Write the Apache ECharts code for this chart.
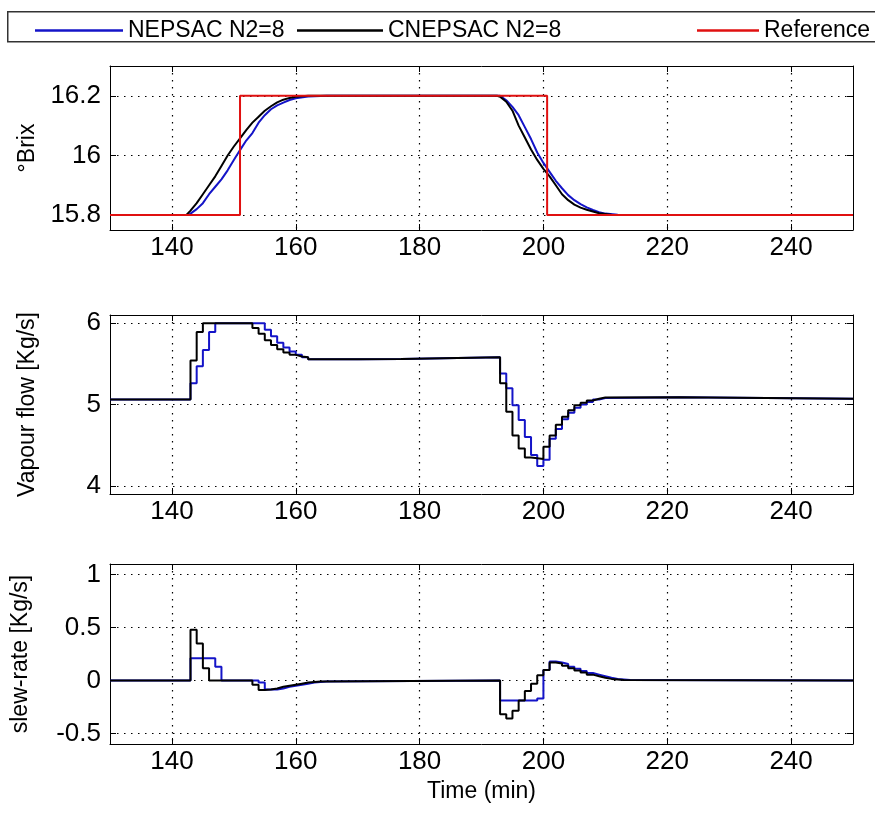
<!DOCTYPE html>
<html>
<head>
<meta charset="utf-8">
<title>NEPSAC vs CNEPSAC</title>
<script src="https://cdn.jsdelivr.net/npm/echarts@6/dist/echarts.min.js"></script>
<style>
  html, body { margin: 0; padding: 0; background: #fff; }
  #chart { width: 875px; height: 816px; }
</style>
</head>
<body>
<div id="chart"></div>
<script>
// legend names
const seriesNames = ['NEPSAC N2=8', 'CNEPSAC N2=8', 'Reference'];

// x ticks (time, min)
const timeTicks = [140, 160, 180, 200, 220, 240];

// --- °Brix (top panel) ---
const brixTicks = [15.8, 16, 16.2];
const brixTimeBlue = [130, 142.5, 143, 144, 145, 146, 147, 148, 149, 150, 151, 152, 153, 154, 155, 156, 157, 158, 159, 160, 162, 165,
  193, 194, 195, 196, 197, 198, 199, 200, 201, 202, 203, 204, 205, 206, 207, 208, 209, 210, 212, 214, 250];
const brixBlue = [15.8, 15.8, 15.805, 15.82, 15.84, 15.87, 15.895, 15.92, 15.95, 15.985, 16.018, 16.05, 16.075, 16.11, 16.135, 16.155, 16.168, 16.177, 16.186, 16.192, 16.198, 16.2,
  16.2, 16.185, 16.163, 16.135, 16.095, 16.055, 16.01, 15.975, 15.945, 15.915, 15.89, 15.867, 15.85, 15.837, 15.826, 15.817, 15.81, 15.805, 15.801, 15.8, 15.8];
const brixTimeBlack = [130, 142.3, 143, 144, 145, 146, 147, 148, 149, 150, 151, 152, 153, 154, 155, 156, 157, 158, 159, 160, 162,
  192.5, 193, 194, 195, 196, 197, 198, 199, 200, 201, 202, 203, 204, 205, 206, 207, 208, 209, 211, 213, 250];
const brixBlack = [15.8, 15.8, 15.815, 15.84, 15.87, 15.9, 15.93, 15.965, 16.0, 16.03, 16.057, 16.085, 16.11, 16.13, 16.15, 16.165, 16.178, 16.187, 16.193, 16.197, 16.2,
  16.2, 16.197, 16.18, 16.15, 16.1, 16.06, 16.02, 15.985, 15.955, 15.93, 15.9, 15.87, 15.85, 15.835, 15.825, 15.818, 15.812, 15.806, 15.801, 15.8, 15.8];
const refTime = [130, 151, 200.6, 250];
const refBrix = [15.8, 16.2, 15.8, 15.8];

// --- vapour flow (middle panel), zero-order hold ---
const vapourTicks = [4, 5, 6];
const vapTimeBlue = [130, 143, 144, 145, 146, 147, 155, 156, 157, 158, 159, 160, 161, 162, 170, 177,
  193, 194, 195, 196, 197, 198, 199, 200, 201, 202, 203, 204, 205, 206, 207, 208, 209, 210, 222, 250];
const vapBlue = [5.06, 5.26, 5.47, 5.67, 5.89, 6.0, 5.92, 5.84, 5.76, 5.70, 5.65, 5.61, 5.58, 5.555, 5.56, 5.58,
  5.38, 5.20, 4.99, 4.81, 4.60, 4.38, 4.245, 4.32, 4.58, 4.70, 4.82, 4.90, 4.96, 5.00, 5.03, 5.06, 5.08, 5.09, 5.07, 5.07];
const vapTimeBlack = [130, 143, 144, 145, 153, 154, 155, 156, 157, 158, 159, 160, 161, 162, 170, 177,
  193, 194, 195, 196, 197, 198, 200, 201, 202, 203, 204, 205, 206, 207, 208, 209, 210, 222, 250];
const vapBlack = [5.06, 5.54, 5.89, 6.0, 5.94, 5.87, 5.79, 5.73, 5.68, 5.64, 5.61, 5.59, 5.58, 5.555, 5.56, 5.58,
  5.26, 4.91, 4.62, 4.46, 4.35, 4.33, 4.48, 4.62, 4.75, 4.85, 4.93, 4.99, 5.02, 5.05, 5.07, 5.085, 5.09, 5.07, 5.07];

// --- slew rate (bottom panel), zero-order hold ---
const slewTicks = [-0.5, 0, 0.5, 1];
const slewTimeBlue = [130, 143, 147, 148, 154, 155, 156, 157, 158, 159, 160, 161, 162, 163, 165,
  193, 199, 200, 201, 202, 203, 204, 205, 206, 207, 208, 209, 210, 211, 212, 214, 250];
const slewBlue = [0, 0.21, 0.13, 0, -0.02, -0.085, -0.085, -0.075, -0.06, -0.05, -0.04, -0.03, -0.02, -0.01, 0,
  -0.19, -0.17, 0.1, 0.18, 0.17, 0.155, 0.13, 0.11, 0.09, 0.07, 0.055, 0.04, 0.025, 0.015, 0.005, 0, 0];
const slewTimeBlack = [130, 143, 144, 145, 146, 153, 154, 155, 156, 157, 158, 159, 160, 161, 162, 164,
  193, 194, 195, 196, 197, 198, 199, 200, 201, 202, 203, 204, 205, 206, 207, 208, 209, 210, 211, 213, 250];
const slewBlack = [0, 0.48, 0.35, 0.115, 0, -0.04, -0.09, -0.085, -0.075, -0.06, -0.05, -0.04, -0.03, -0.02, -0.01, 0,
  -0.32, -0.36, -0.285, -0.19, -0.1, -0.03, 0.05, 0.1, 0.17, 0.16, 0.14, 0.115, 0.095, 0.075, 0.055, 0.04, 0.025, 0.015, 0.005, 0, 0];

const BLUE = '#1414c8';
const BLACK = '#000000';
const RED = '#e01010';
const FONT = 'Liberation Sans, Arial, sans-serif';

const zip = (t, v) => t.map((x, i) => [x, v[i]]);

const chart = echarts.init(document.getElementById('chart'), null, { renderer: 'canvas' });

// panel boxes
const grids = [
  { left: 110, right: 22, top: 66, height: 164 },
  { left: 110, right: 22, top: 315, height: 179 },
  { left: 110, right: 22, top: 564, height: 180 }
];

const dotted = { show: true, lineStyle: { color: '#000', width: 1.2, type: [1.5, 5.5] } };
const frameLine = { show: true, onZero: false, lineStyle: { color: '#000', width: 1 } };

// x axes: bottom one with labels, top one only for the frame + ticks
const xAxes = [];
grids.forEach((g, i) => {
  xAxes.push({
    type: 'value', gridIndex: i, min: 130, max: 250, position: 'bottom',
    axisLine: frameLine,
    axisTick: { show: true, inside: true, length: 6, customValues: timeTicks, lineStyle: { color: '#000' } },
    axisLabel: { customValues: timeTicks, color: '#000', fontSize: 26, fontFamily: FONT, margin: 5 },
    splitLine: dotted,
    name: i === 2 ? 'Time (min)' : '',
    nameLocation: 'middle', nameGap: 36,
    nameTextStyle: { color: '#000', fontSize: 23, fontFamily: FONT }
  });
  xAxes.push({
    type: 'value', gridIndex: i, min: 130, max: 250, position: 'top',
    axisLine: frameLine,
    axisTick: { show: true, inside: true, length: 6, customValues: timeTicks, lineStyle: { color: '#000' } },
    axisLabel: { show: false },
    splitLine: { show: false }
  });
});

// y axes: left with labels, right for the frame
const yDefs = [
  { min: 15.75, max: 16.3, ticks: brixTicks, name: '°Brix', gap: 70 },
  { min: 3.9, max: 6.1, ticks: vapourTicks, name: 'Vapour flow [Kg/s]', gap: 71 },
  { min: -0.6, max: 1.1, ticks: slewTicks, name: 'slew-rate [Kg/s]', gap: 78 }
];
const yAxes = [];
yDefs.forEach((d, i) => {
  yAxes.push({
    type: 'value', gridIndex: i, min: d.min, max: d.max, position: 'left',
    axisLine: frameLine,
    axisTick: { show: true, inside: true, length: 6, customValues: d.ticks, lineStyle: { color: '#000' } },
    axisLabel: { customValues: d.ticks, color: '#000', fontSize: 26, fontFamily: FONT, margin: 9 },
    splitLine: dotted,
    name: d.name, nameLocation: 'middle', nameRotate: 90, nameGap: d.gap,
    nameTextStyle: { color: '#000', fontSize: 23, fontFamily: FONT }
  });
  yAxes.push({
    type: 'value', gridIndex: i, min: d.min, max: d.max, position: 'right',
    axisLine: frameLine,
    axisTick: { show: true, inside: true, length: 6, customValues: d.ticks, lineStyle: { color: '#000' } },
    axisLabel: { show: false },
    splitLine: { show: false }
  });
});

// one line series helper
function line(name, color, axisIdx, data, step) {
  return {
    name: name, type: 'line', xAxisIndex: axisIdx * 2, yAxisIndex: axisIdx * 2,
    data: data, step: step || false, symbol: 'none', animation: false,
    lineStyle: { color: color, width: 2 }, itemStyle: { color: color }
  };
}

// legend entries are placed one by one, like the original figure
function legendItem(name, left, width) {
  return {
    data: [name], left: left, top: 14,
    icon: 'rect', itemWidth: width, itemHeight: 2.5,
    textStyle: { color: '#000', fontSize: 23, fontFamily: FONT },
    z: 10
  };
}

const option = {
  backgroundColor: '#fff',
  animation: false,
  grid: grids,
  xAxis: xAxes,
  yAxis: yAxes,
  graphic: [{
    type: 'rect', left: 7, top: 11, z: 0,
    shape: { width: 900, height: 30 },
    style: { fill: '#fff', stroke: '#333', lineWidth: 1.5 }
  }],
  legend: [
    legendItem(seriesNames[0], 30, 88),
    legendItem(seriesNames[1], 292, 86),
    legendItem(seriesNames[2], 692, 62)
  ],
  series: [
    line(seriesNames[0], BLUE, 0, zip(brixTimeBlue, brixBlue)),
    line(seriesNames[1], BLACK, 0, zip(brixTimeBlack, brixBlack)),
    line(seriesNames[2], RED, 0, zip(refTime, refBrix), 'end'),
    line(seriesNames[0], BLUE, 1, zip(vapTimeBlue, vapBlue), 'end'),
    line(seriesNames[1], BLACK, 1, zip(vapTimeBlack, vapBlack), 'end'),
    line(seriesNames[0], BLUE, 2, zip(slewTimeBlue, slewBlue), 'end'),
    line(seriesNames[1], BLACK, 2, zip(slewTimeBlack, slewBlack), 'end')
  ]
};

chart.setOption(option);
</script>
</body>
</html>
